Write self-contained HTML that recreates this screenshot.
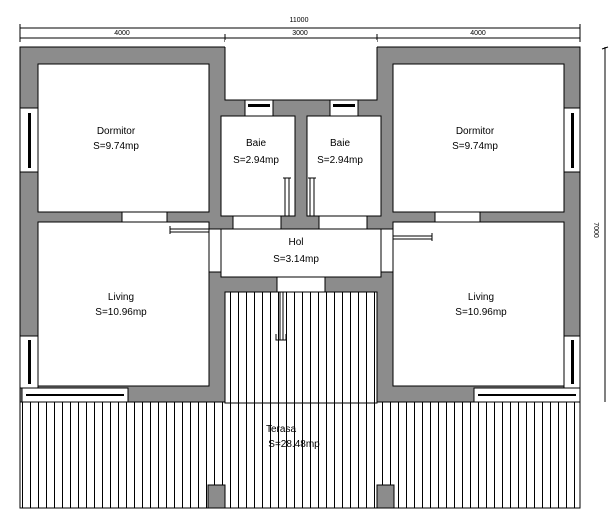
<!DOCTYPE html>
<html><head><style>body{margin:0;background:#fff}svg{display:block}text{font-family:"Liberation Sans",sans-serif;fill:#000}</style></head><body>
<svg width="616" height="529" viewBox="0 0 616 529" xmlns="http://www.w3.org/2000/svg">
<defs><pattern id="h" width="8" height="10" patternUnits="userSpaceOnUse" x="22"><rect width="8" height="10" fill="#fff"/><line x1="0.5" y1="0" x2="0.5" y2="10" stroke="#000" stroke-width="1"/></pattern></defs>
<!-- dims -->
<g stroke="#000" stroke-width="1">
<line x1="20" y1="28" x2="580" y2="28"/><line x1="20" y1="38" x2="580" y2="38"/>
<line x1="20" y1="24" x2="20" y2="42"/><line x1="580" y1="24" x2="580" y2="42"/>
<line x1="225" y1="34" x2="225" y2="42"/><line x1="377" y1="34" x2="377" y2="42"/>
<line x1="605" y1="47" x2="605" y2="402"/><line x1="602" y1="49" x2="608" y2="47"/>
</g>
<text x="299" y="22" font-size="7" text-anchor="middle">11000</text>
<text x="122" y="35" font-size="7" text-anchor="middle">4000</text>
<text x="300" y="35" font-size="7" text-anchor="middle">3000</text>
<text x="478" y="35" font-size="7" text-anchor="middle">4000</text>
<text x="0" y="0" font-size="7" text-anchor="middle" transform="translate(594,230) rotate(90)">7000</text>
<!-- walls -->
<rect x="20" y="47" width="560" height="355" fill="#8c8c8c" stroke="#000"/>
<rect x="225" y="40" width="152" height="60" fill="#fff"/>
<path d="M225,47V100H377V47" fill="none" stroke="#000"/>
<!-- terrace -->
<rect x="20" y="402" width="560" height="106" fill="url(#h)" stroke="#000"/>
<rect x="225" y="292" width="152" height="111" fill="url(#h)" stroke="#000"/>
<rect x="208" y="485" width="17" height="23" fill="#8c8c8c" stroke="#000"/>
<rect x="377" y="485" width="17" height="23" fill="#8c8c8c" stroke="#000"/>
<!-- rooms -->
<g fill="#fff" stroke="#000">
<rect x="38" y="64" width="171" height="148"/>
<rect x="393" y="64" width="171" height="148"/>
<rect x="38" y="222" width="171" height="164"/>
<rect x="393" y="222" width="171" height="164"/>
<rect x="221" y="116" width="74" height="100"/>
<rect x="307" y="116" width="74" height="100"/>
<rect x="221" y="229" width="160" height="48"/>
<!-- doors openings -->
<rect x="122" y="212" width="45" height="10"/>
<rect x="435" y="212" width="45" height="10"/>
<rect x="233" y="216" width="48" height="13"/>
<rect x="319" y="216" width="48" height="13"/>
<rect x="209" y="229" width="12" height="43"/>
<rect x="381" y="229" width="12" height="43"/>
<rect x="277" y="277" width="48" height="15"/>
<!-- windows -->
<rect x="245" y="100" width="28" height="16"/>
<rect x="330" y="100" width="28" height="16"/>
<rect x="20" y="108" width="18" height="64"/>
<rect x="564" y="108" width="16" height="64"/>
<rect x="20" y="336" width="18" height="52"/>
<rect x="564" y="336" width="16" height="52"/>
<rect x="22" y="388" width="106" height="14"/>
<rect x="474" y="388" width="106" height="14"/>
</g>
<g fill="#000">
<rect x="248" y="104" width="22" height="3"/><rect x="333" y="104" width="22" height="3"/>
<rect x="28" y="113" width="3" height="55"/><rect x="571" y="113" width="3" height="55"/>
<rect x="28" y="340" width="3" height="44"/><rect x="571" y="340" width="3" height="44"/>
<rect x="26" y="394" width="98" height="2"/><rect x="478" y="394" width="98" height="2"/>
</g>
<g stroke="#000" fill="none">
<path d="M285,216V178M289,216V178M283,178h8M310,216V178M314,216V178M308,178h8"/>
<path d="M209,229H170M209,232H170M170,226v8M393,236H432M393,239H432M432,233v8"/>
<path d="M280,292V340M283,292V340M276,334v6h10v-6"/>
</g>
<!-- labels -->
<g font-size="10" text-anchor="middle">
<text x="116" y="134">Dormitor</text><text x="116" y="149">S=9.74mp</text>
<text x="475" y="134">Dormitor</text><text x="475" y="149">S=9.74mp</text>
<text x="256" y="146">Baie</text><text x="256" y="163">S=2.94mp</text>
<text x="340" y="146">Baie</text><text x="340" y="163">S=2.94mp</text>
<text x="296" y="245">Hol</text><text x="296" y="262">S=3.14mp</text>
<text x="121" y="300">Living</text><text x="121" y="315">S=10.96mp</text>
<text x="481" y="300">Living</text><text x="481" y="315">S=10.96mp</text>
<text x="281" y="432">Terasa</text><text x="294" y="447">S=28.48mp</text>
</g>
</svg>
</body></html>
